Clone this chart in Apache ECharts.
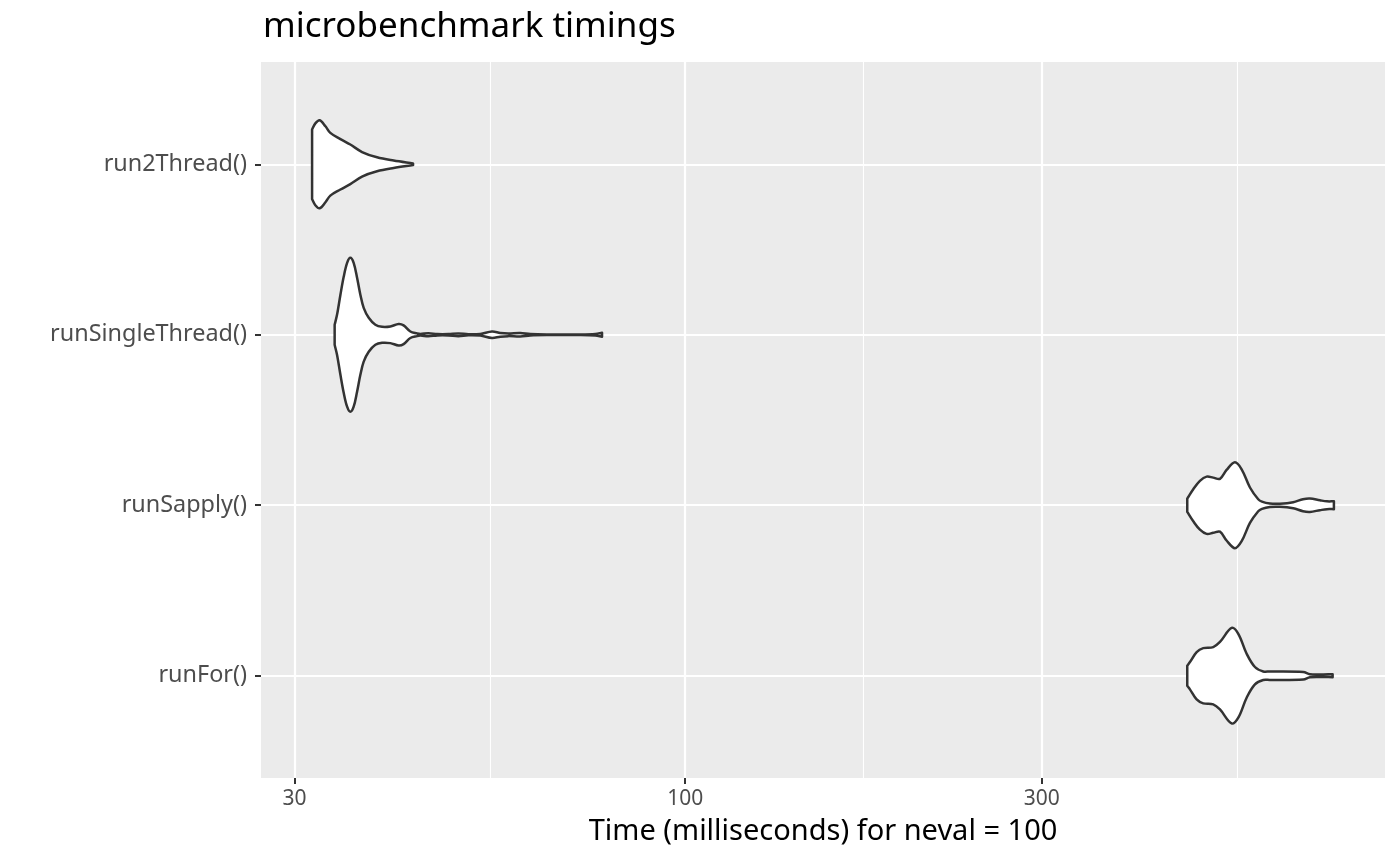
<!DOCTYPE html>
<html lang="en">
<head>
    <meta charset="UTF-8">
    <title>microbenchmark timings</title>
    <script src="https://cdn.jsdelivr.net/npm/echarts@6/dist/echarts.min.js"></script>
    <style>
        html, body { margin: 0; padding: 0; background: #fff; }
    </style>
</head>
<body>
    <div id="main" style="width: 1400px;height: 865px;"></div>
<script>
    // categories, top to bottom
    var categories = ['run2Thread()', 'runSingleThread()', 'runSapply()', 'runFor()'];

    // x axis breaks (ms)
    var xTicks = [30, 100, 300];
    var xMinorTicks = [54.8, 173.2, 547.7];

    // violin outlines: time (ms) and half width (in category units)
    var run2ThreadTime = [31.68, 32.00, 32.43, 33.01, 33.51, 34.57, 35.64, 36.95, 38.70, 40.73, 43.24];
    var run2ThreadHalf = [0.204, 0.240, 0.258, 0.223, 0.184, 0.148, 0.116, 0.072, 0.041, 0.022, 0.005];

    var runSingleThreadTime = [33.96, 34.21, 34.57, 34.92, 35.29, 35.64, 36.01, 36.39, 36.76, 37.14, 37.72, 38.50,
        39.31, 40.32, 41.36, 42.00, 42.88, 43.78, 44.23, 45.33, 46.60, 48.21, 49.72, 51.28, 53.20, 55.15, 56.58,
        57.99, 60.17, 62.06, 65.99, 72.39, 75.82, 77.40];
    var runSingleThreadHalf = [0.059, 0.117, 0.235, 0.340, 0.422, 0.452, 0.422, 0.334, 0.235, 0.158, 0.100, 0.059,
        0.047, 0.049, 0.063, 0.055, 0.019, 0.008, 0.005, 0.009, 0.004, 0.004, 0.008, 0.003, 0.005, 0.019, 0.011,
        0.008, 0.010, 0.004, 0.002, 0.002, 0.005, 0.012];

    var runSapplyTime = [469.7, 478.5, 488.4, 498.6, 508.8, 519.5, 530.2, 544.0, 555.4, 569.8, 584.5, 591.2,
        605.9, 624.9, 651.1, 670.9, 685.4, 706.9, 722.3, 738.0];
    var runSapplyHalf = [0.039, 0.094, 0.143, 0.168, 0.162, 0.155, 0.207, 0.252, 0.211, 0.104, 0.035, 0.021,
        0.010, 0.009, 0.018, 0.035, 0.039, 0.029, 0.023, 0.023];

    var runForTime = [469.7, 473.6, 483.5, 493.4, 508.8, 519.5, 538.5, 549.7, 564.0, 578.6, 593.6, 605.9,
        671.5, 685.4, 706.9, 735.1];
    var runForHalf = [0.059, 0.080, 0.139, 0.162, 0.168, 0.198, 0.280, 0.246, 0.129, 0.051, 0.025, 0.025,
        0.022, 0.009, 0.007, 0.009];

    var violins = [
        { time: run2ThreadTime, half: run2ThreadHalf },
        { time: runSingleThreadTime, half: runSingleThreadHalf },
        { time: runSapplyTime, half: runSapplyHalf },
        { time: runForTime, half: runForHalf }
    ];

    var lg = Math.log10;
    var allTimes = [].concat(run2ThreadTime, runSingleThreadTime, runSapplyTime, runForTime);
    var lo = lg(Math.min.apply(null, allTimes));
    var hi = lg(Math.max.apply(null, allTimes));
    var pad = (hi - lo) * 0.05;  // ggplot default expansion

    var font = "'Noto Sans', 'DejaVu Sans', sans-serif";
    var tickStyle = { color: '#333333', width: 2 };

    function renderViolin(params, api) {
        var k = params.dataIndex;
        var v = violins[k];
        var pos = k + 1;
        var n = v.time.length;
        var upper = [], lower = [];
        for (var i = 0; i < n; i++) {
            upper.push(api.coord([lg(v.time[i]), pos - v.half[i]]));
            lower.unshift(api.coord([lg(v.time[i]), pos + v.half[i]]));
        }
        // doubled corner points keep the trimmed ends straight when smoothing
        var pts = [upper[0]].concat(upper, [upper[n - 1]], [lower[0]], lower, [lower[n - 1]]);
        return {
            type: 'polygon',
            shape: { points: pts, smooth: 0.35 },
            style: { fill: '#ffffff', stroke: '#333333', lineWidth: 2.5, lineJoin: 'round' }
        };
    }

    var myChart = echarts.init(document.getElementById('main'));
    myChart.setOption({
        animation: false,
        backgroundColor: '#ffffff',
        textStyle: { fontFamily: font },
        title: {
            text: 'microbenchmark timings',
            left: 258,
            top: 5,
            textStyle: { fontFamily: font, fontSize: 35, fontWeight: 'normal', color: '#000000' }
        },
        grid: {
            left: 261, right: 15, top: 62, bottom: 87,
            show: true, backgroundColor: '#EBEBEB', borderWidth: 0
        },
        xAxis: [
            {
                type: 'value',
                min: lo - pad,
                max: hi + pad,
                axisLine: { show: false },
                axisTick: { show: true, length: 6, customValues: xTicks.map(lg), lineStyle: tickStyle },
                axisLabel: {
                    customValues: xTicks.map(lg),
                    formatter: function (v) { return String(Math.round(Math.pow(10, v))); },
                    color: '#4D4D4D', fontSize: 21, margin: 11
                },
                splitLine: { show: true, lineStyle: { color: '#ffffff', width: 2.2 } },
                name: 'Time (milliseconds) for neval = 100',
                nameLocation: 'middle',
                nameGap: 39,
                nameTextStyle: { color: '#000000', fontSize: 29 }
            },
            {
                type: 'value',
                min: lo - pad,
                max: hi + pad,
                axisLine: { show: false },
                axisTick: { show: false, customValues: xMinorTicks.map(lg) },
                axisLabel: { show: false, customValues: xMinorTicks.map(lg) },
                splitLine: { show: true, lineStyle: { color: '#ffffff', width: 1.1 } }
            }
        ],
        yAxis: {
            type: 'value',
            inverse: true,
            min: 0.4,
            max: 4.6,
            axisLine: { show: false },
            axisTick: { show: true, length: 6, customValues: [1, 2, 3, 4], lineStyle: tickStyle },
            axisLabel: {
                customValues: [1, 2, 3, 4],
                formatter: function (v) { return categories[Math.round(v) - 1]; },
                color: '#4D4D4D', fontSize: 23.4, margin: 14
            },
            splitLine: { show: true, lineStyle: { color: '#ffffff', width: 2.2 } }
        },
        series: [{
            type: 'custom',
            xAxisIndex: 0,
            renderItem: renderViolin,
            encode: { x: 0, y: 1 },
            data: violins.map(function (v, i) { return [lg(v.time[0]), i + 1]; })
        }]
    });
</script>
</body>
</html>
